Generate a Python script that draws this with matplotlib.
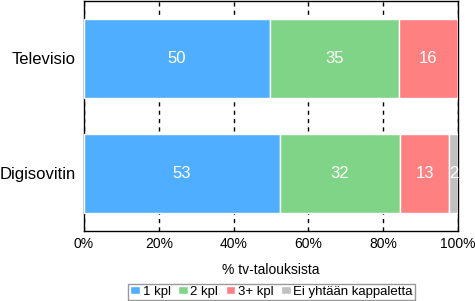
import matplotlib
matplotlib.use("Agg")
import matplotlib.pyplot as plt
import numpy as np

plt.rcParams['font.family'] = ['Liberation Sans', 'DejaVu Sans']

categories = ["Televisio", "Digisovitin"]
series = ["1 kpl", "2 kpl", "3+ kpl", "Ei yhtään kappaletta"]
values = {
    "1 kpl": [49.6, 52.4],
    "2 kpl": [34.6, 32.1],
    "3+ kpl": [15.7, 13.1],
    "Ei yhtään kappaletta": [0.1, 2.4],
}
labels = {
    "1 kpl": ["50", "53"],
    "2 kpl": ["35", "32"],
    "3+ kpl": ["16", "13"],
    "Ei yhtään kappaletta": ["", "2"],
}
colors = ["#4FAEFF", "#80D487", "#FF8080", "#C0C0C0"]
xticks = [0, 20, 40, 60, 80, 100]
xticklabels = ["0%", "20%", "40%", "60%", "80%", "100%"]

fig = plt.figure(figsize=(4.75, 3.01), dpi=100)
ax = fig.add_axes([84/475, 1-231/301, (458-84)/475, 230/301])

y = np.arange(len(categories))
left = np.zeros(len(categories))
for s, c in zip(series, colors):
    v = np.array(values[s])
    ax.barh(y, v, left=left, height=0.69, color=c, edgecolor="white", linewidth=1, label=s, zorder=3)
    for i in range(len(categories)):
        if labels[s][i]:
            ax.text(left[i] + v[i]/2, y[i], labels[s][i], ha="center", va="center",
                    color="white", fontsize=12, zorder=4)
    left += v

ax.set_xlim(0, 100)
ax.set_ylim(1.5, -0.5)
ax.set_yticks(y)
ax.set_yticklabels(categories, fontsize=12)
ax.set_xticks(xticks)
ax.set_xticklabels(xticklabels, fontsize=10)
ax.tick_params(axis="y", length=0, pad=6)
ax.tick_params(axis="x", length=0, pad=4)
ax.xaxis.grid(True, linestyle=(0, (3, 3)), color="black", linewidth=1, zorder=0)
ax.set_axisbelow(True)
for sp in ax.spines.values():
    sp.set_color("black")
    sp.set_linewidth(1)
ax.set_xlabel("% tv-talouksista", fontsize=10, labelpad=9)

leg = fig.legend(loc="lower center", bbox_to_anchor=(271.5/475, 0.0), ncol=4, fontsize=9.5,
                 frameon=True, fancybox=False, edgecolor="#808080", handlelength=0.75,
                 handleheight=0.5, handletextpad=0.2, columnspacing=0.55, borderpad=0.15,
                 borderaxespad=0.1)
leg.get_frame().set_linewidth(1)

fig.savefig("out.png", dpi=100)
